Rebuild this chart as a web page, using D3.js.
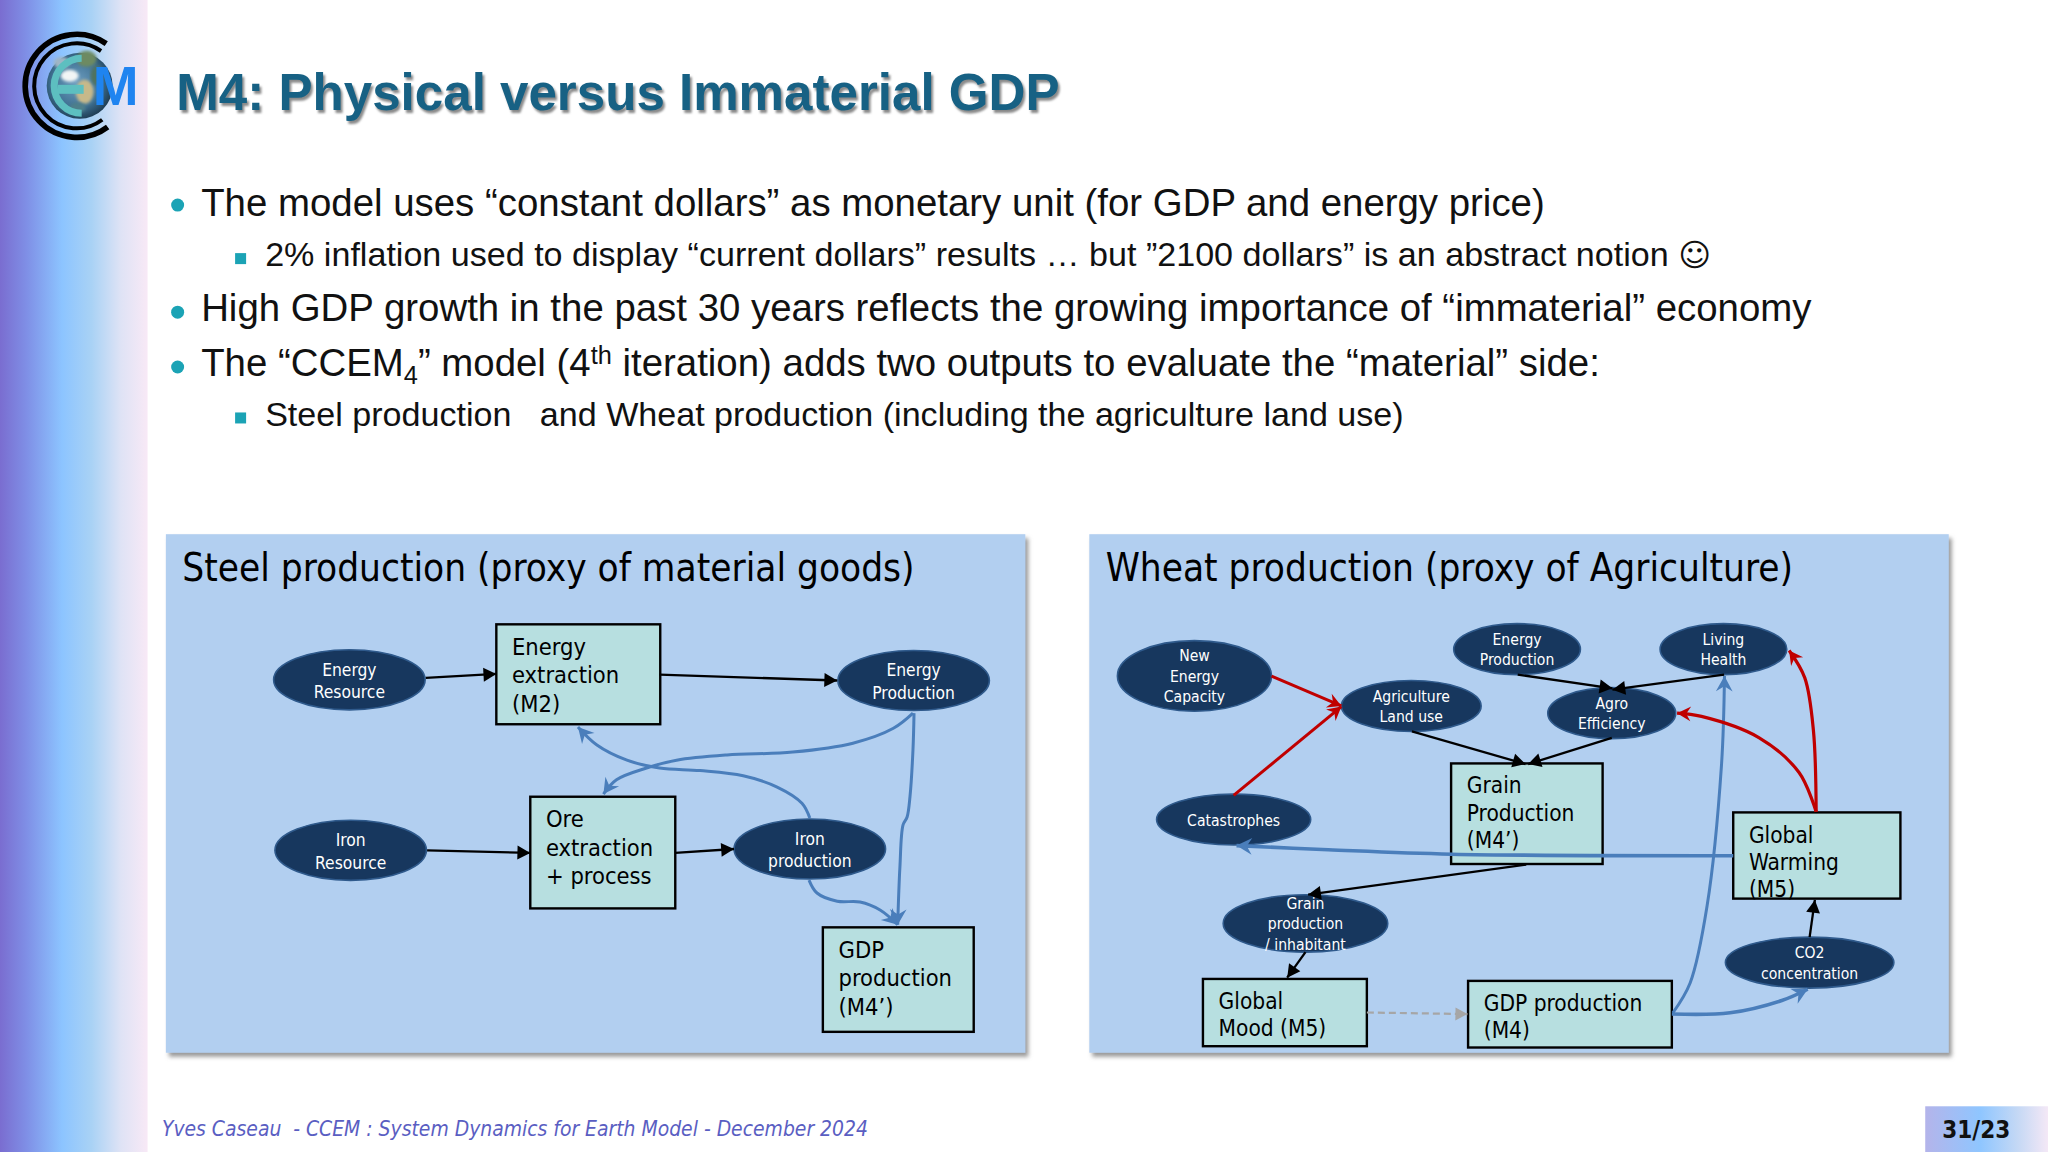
<!DOCTYPE html>
<html>
<head>
<meta charset="utf-8">
<script src="https://d3js.org/d3.v7.min.js"></script>
<style>
html, body { margin: 0; padding: 0; background: #fff; }
svg { display: block; }
text { white-space: pre; }
</style>
</head>
<body>
<svg id="slide" width="2048" height="1152"></svg>
<script>
var titleText = "M4: Physical versus Immaterial GDP";
var footerText = "Yves Caseau  - CCEM : System Dynamics for Earth Model - December 2024";
var pageText = "31/23";

var bulletY = [157, 239, 281];
var squareY = [198, 320];
var bulletLines = [
  [{t: "The model uses “constant dollars” as monetary unit (for GDP and energy price)"}],
  [{t: "2% inflation used to display “current dollars” results … but ”2100 dollars” is an abstract notion "}, {t: "☺", s: "big"}],
  [{t: "High GDP growth in the past 30 years reflects the growing importance of “immaterial” economy"}],
  [{t: "The “CCEM"}, {t: "4", s: "sub"}, {t: "” model (4"}, {t: "th", s: "sup"}, {t: " iteration) adds two outputs to evaluate the “material” side:"}],
  [{t: "Steel production   and Wheat production (including the agriculture land use)"}]
];
var bulletLineX = [154, 203, 154, 154, 203];
var bulletLineY = [165.5, 204, 245.5, 287.5, 326.5];
var bulletLineSize = [38.4, 34.1, 38.4, 38.4, 34.1];

var panelTitles = ["Steel production (proxy of material goods)", "Wheat production (proxy of Agriculture)"];
var panelX = [127, 834];
var panelW = [658, 658];

// ellipses
var ovalLabels = [
  ["Energy", "Resource"], ["Energy", "Production"], ["Iron", "Resource"], ["Iron", "production"],
  ["New", "Energy", "Capacity"], ["Agriculture", "Land use"], ["Energy", "Production"], ["Living", "Health"],
  ["Agro", "Efficiency"], ["Catastrophes"], ["Grain", "production", "/ inhabitant"], ["CO2", "concentration"]
];
var ovalCx = [267.5, 699.5, 268.5, 620, 914.5, 1080.5, 1161.5, 1319.5, 1234, 944.5, 999.5, 1385.5];
var ovalCy = [520.5, 521, 651, 650, 517.5, 540.5, 497, 497, 546, 627.5, 707, 737];
var ovalRx = [58, 58, 58, 58, 59, 53.5, 48.5, 48.5, 49, 59, 63, 64.5];
var ovalRy = [23, 23, 23, 23, 27, 19.5, 19.5, 19.5, 19.5, 19.5, 22, 19.5];
var ovalFont = [17.3, 17.3, 17.3, 17.3, 15.6, 15.6, 15.6, 15.6, 15.6, 15.6, 15.6, 15.6];
var ovalStep = [17.4, 17.4, 17.4, 17.4, 15.7, 15.7, 15.7, 15.7, 15.7, 15.7, 15.7, 15.7];

// boxes
var boxLabels = [
  ["Energy", "extraction", "(M2)"], ["Ore", "extraction", "+ process"], ["GDP", "production", "(M4’)"],
  ["Grain", "Production", "(M4’)"], ["Global", "Warming", "(M5)"], ["Global", "Mood (M5)"], ["GDP production", "(M4)"]
];
var boxX0 = [380, 406, 630, 1111, 1327, 921, 1124];
var boxX1 = [505.5, 517, 745.5, 1227, 1455, 1046.5, 1280];
var boxY0 = [478, 610, 710, 584.5, 622, 749.5, 751];
var boxY1 = [554.5, 695.5, 790, 661.5, 688, 801, 802];
var boxFont = [23.5, 23.5, 23.5, 22.5, 22.5, 22.5, 22.5];
var boxStep = [21.7, 21.7, 21.7, 20.8, 20.8, 20.8, 20.8];
var boxPad = [23.5, 23.5, 23.5, 23, 23.5, 23, 23];

// straight arrows as [x0, y0, x1, y1]
var blackArrows = [
  [326, 519, 380, 516], [505, 516.5, 641, 521], [327, 651, 406, 653], [517, 653, 562, 650],
  [1162, 516.5, 1234.5, 527], [1320, 516.5, 1234.5, 528], [1081, 560, 1168, 585], [1234, 565, 1170, 585],
  [1168.5, 662, 1001.5, 685], [999.5, 729, 985.5, 748.5], [1385.5, 717.5, 1389.5, 689]
];
var greyArrow = [1046.5, 775.2, 1123.5, 776.4];
var redStraight = [[973.5, 517.6, 1027, 540.5], [944.5, 609, 1027, 541]];

// curved arrows, points along each line
var blueCurves = [
  [[699, 546], [684, 557.6], [653, 569], [607, 575.8], [556.6, 578], [518, 582], [495, 588], [472, 597], [462, 608]],
  [[620, 626.3], [614, 615], [595, 602.6], [569, 594], [536, 590], [505, 588], [480, 582], [457, 570.4], [442.5, 556.6]],
  [[699.8, 546], [699, 574], [696.7, 610], [694.5, 625.5], [691.4, 631.6], [689, 663.8], [687.3, 708]],
  [[619.4, 673.8], [625.5, 683.7], [641, 690], [658.5, 690.6], [673.8, 696.7], [687.3, 708]],
  [[1280.8, 775.4], [1294, 752.6], [1307, 693.5], [1318, 586], [1320.3, 517.6]]
];
var blueThick = [
  [[1327, 655.2], [1111.5, 654], [1016.9, 650.6], [946.7, 647.4]],
  [[1280, 776.3], [1324.6, 775.4], [1364.2, 766], [1384, 757.4]]
];
var redCurves = [
  [[1390.5, 621.5], [1377.4, 591.5], [1346.6, 564.7], [1302.7, 548.5], [1284, 546]],
  [[1390.5, 621.5], [1388.4, 559.3], [1381.8, 519], [1369.8, 498]]
];

// logo pieces, relative to the centre of the rings
var logoRings = [[51.5, 2.8], [42.5, 2]];
var landX = [-7, 8, 10, 20, 1, -15];
var landY = [-10, 6, -27, -10, 22, -23];
var landRx = [9, 9, 10, 6, 8, 8];
var landRy = [6, 12, 8, 10, 5, 6];
var landCol = ["#f2f5f5", "#c7b98a", "#6d8a62", "#4f7260", "#4d7f8a", "#9fb5c5"];

var svg = d3.select("#slide");
var x = d3.scaleLinear().domain([0, 1568]).range([0, 2048]);
var y = d3.scaleLinear().domain([0, 882]).range([0, 1152]);
var defs = svg.append("defs");

function sideGradient(id, stops) {
  var g = defs.append("linearGradient").attr("id", id);
  stops.forEach(function(s) {
    g.append("stop").attr("offset", s[0]).attr("stop-color", s[1]);
  });
}
sideGradient("side", [[0, "#7a6dd0"], [0.18, "#7f8fe6"], [0.42, "#8cc4ff"], [0.62, "#a9d2f5"], [0.82, "#dfe3f5"], [1, "#f8e9f6"]]);
sideGradient("pageBox", [[0, "#b4b4ea"], [0.45, "#8fc6ff"], [0.75, "#c4d8f5"], [1, "#f4e8f6"]]);

var globe = defs.append("radialGradient").attr("id", "globe").attr("cx", 0.45).attr("cy", 0.45).attr("r", 0.58);
globe.append("stop").attr("offset", 0).attr("stop-color", "#6f9fc2");
globe.append("stop").attr("offset", 0.65).attr("stop-color", "#3f7192");
globe.append("stop").attr("offset", 1).attr("stop-color", "#1d3a50");

var shadow = defs.append("filter").attr("id", "panelShadow")
  .attr("x", "-2%").attr("y", "-2%").attr("width", "105%").attr("height", "106%");
shadow.append("feDropShadow").attr("dx", 3).attr("dy", 4).attr("stdDeviation", 2)
  .attr("flood-color", "#777").attr("flood-opacity", 0.75);
var soft = defs.append("filter").attr("id", "soft");
soft.append("feGaussianBlur").attr("stdDeviation", 1.6);
var titleBlur = defs.append("filter").attr("id", "titleBlur").attr("x", "-2%").attr("y", "-20%").attr("width", "104%").attr("height", "140%");
titleBlur.append("feGaussianBlur").attr("stdDeviation", 1.3);

function arrowMarker(id, col, size, shape) {
  defs.append("marker").attr("id", id)
    .attr("markerUnits", "userSpaceOnUse")
    .attr("viewBox", "-1 -8 14 16")
    .attr("markerWidth", size).attr("markerHeight", size * 16 / 14)
    .attr("refX", 12).attr("refY", 0)
    .attr("orient", "auto")
    .append("path").attr("d", shape).attr("fill", col);
}
var solidHead = "M0,-6.5L12,0L0,6.5Z";
var notchHead = "M0,-6.5L12,0L0,6.5L4,0Z";
arrowMarker("headBlack", "#000", 15, solidHead);
arrowMarker("headBlue", "#4a7ebb", 18, notchHead);
arrowMarker("headRed", "#c00000", 16, notchHead);
arrowMarker("headGrey", "#a6a6a6", 14, solidHead);

// side band and page number
svg.append("rect").attr("x", 0).attr("y", 0).attr("width", x(113)).attr("height", y(882)).attr("fill", "url(#side)");
svg.append("rect").attr("x", x(1474)).attr("y", y(847)).attr("width", x(94)).attr("height", y(35)).attr("fill", "url(#pageBox)");

// logo
var logo = svg.append("g").attr("transform", "translate(" + x(58.7) + "," + y(65.7) + ")");
logo.append("circle").attr("cx", 3).attr("r", 33).attr("fill", "url(#globe)");
logo.selectAll("ellipse.land").data(landX).join("ellipse").attr("class", "land")
  .attr("cx", function(d) { return d; })
  .attr("cy", function(d, i) { return landY[i]; })
  .attr("rx", function(d, i) { return landRx[i]; })
  .attr("ry", function(d, i) { return landRy[i]; })
  .attr("fill", function(d, i) { return landCol[i]; })
  .attr("filter", "url(#soft)");
// rings open on the right
var ringArc = d3.arc().startAngle(143 * Math.PI / 180).endAngle(395 * Math.PI / 180);
logo.selectAll("path.ring").data(logoRings).join("path").attr("class", "ring")
  .attr("d", function(d) { return ringArc.innerRadius(d[0]).outerRadius(d[0])(); })
  .attr("fill", "none").attr("stroke", "#000")
  .attr("stroke-width", function(d) { return d[1] * 2; })
  .attr("stroke-linecap", "round");
// teal E over the globe
logo.append("path")
  .attr("d", d3.arc().innerRadius(24).outerRadius(31).startAngle(Math.PI).endAngle(2 * Math.PI)())
  .attr("transform", "translate(5,0)").attr("fill", "#5dbfc0");
logo.append("rect").attr("x", -19).attr("y", -1).attr("width", 26).attr("height", 9).attr("fill", "#5dbfc0");
logo.append("text").attr("x", 16).attr("y", 19.5)
  .style("font", "bold 55px 'Liberation Sans'").attr("fill", "#1f84f0").text("M");

// title with its soft shadow
var titleX = x(135), titleY = y(84);
svg.append("text").attr("x", titleX + 2).attr("y", titleY + 3)
  .style("font", "bold 51.1px 'Liberation Sans'").attr("fill", "#8a8a8a")
  .attr("filter", "url(#titleBlur)").text(titleText);
svg.append("text").attr("x", titleX).attr("y", titleY)
  .style("font", "bold 51.1px 'Liberation Sans'").attr("fill", "#176184").text(titleText);

// bullets
svg.selectAll("circle.bullet").data(bulletY).join("circle").attr("class", "bullet")
  .attr("cx", x(136)).attr("cy", function(d) { return y(d); }).attr("r", 6.5).attr("fill", "#1ba3b5");
svg.selectAll("rect.square").data(squareY).join("rect").attr("class", "square")
  .attr("x", x(180)).attr("y", function(d) { return y(d) - 5.5; })
  .attr("width", 11).attr("height", 11).attr("fill", "#1ba3b5");

bulletLines.forEach(function(parts, i) {
  var size = bulletLineSize[i];
  var line = svg.append("text").attr("x", x(bulletLineX[i])).attr("y", y(bulletLineY[i]))
    .style("font-family", "'Liberation Sans'").style("font-size", size + "px").attr("fill", "#111");
  var shift = 0;
  parts.forEach(function(p) {
    var dy = -shift;
    var ts = line.append("tspan").text(p.t);
    if (p.s === "sub") { dy += 8; shift = 8; ts.style("font-size", size * 0.66 + "px"); }
    else if (p.s === "sup") { dy += -12; shift = -12; ts.style("font-size", size * 0.66 + "px"); }
    else if (p.s === "big") { shift = 0; ts.style("font-size", size * 0.92 + "px").style("font-family", "'DejaVu Sans'"); }
    else { shift = 0; }
    if (dy !== 0) ts.attr("dy", dy);
  });
});

// panels
panelX.forEach(function(px, i) {
  svg.append("rect").attr("x", x(px)).attr("y", y(409)).attr("width", x(panelW[i])).attr("height", y(397))
    .attr("fill", "#b2cff0").attr("filter", "url(#panelShadow)");
  svg.append("text").attr("x", x(px + 12.5)).attr("y", y(444.5))
    .style("font-family", "'DejaVu Sans Condensed'").style("font-size", "38.4px").attr("fill", "#000")
    .text(panelTitles[i]);
});

var curve = d3.line()
  .x(function(d) { return x(d[0]); })
  .y(function(d) { return y(d[1]); })
  .curve(d3.curveCatmullRom.alpha(0.5));

function straight(list, col, w, head, dash) {
  svg.append("g").selectAll("line").data(list).join("line")
    .attr("x1", function(d) { return x(d[0]); })
    .attr("y1", function(d) { return y(d[1]); })
    .attr("x2", function(d) { return x(d[2]); })
    .attr("y2", function(d) { return y(d[3]); })
    .attr("stroke", col).attr("stroke-width", w)
    .attr("stroke-dasharray", dash || null)
    .attr("marker-end", "url(#" + head + ")");
}
function curved(list, col, w, head) {
  svg.append("g").selectAll("path").data(list).join("path")
    .attr("d", curve).attr("fill", "none")
    .attr("stroke", col).attr("stroke-width", w)
    .attr("marker-end", "url(#" + head + ")");
}

// boxes first, the warming line runs over the grain box
svg.append("g").selectAll("rect").data(boxLabels).join("rect")
  .attr("x", function(d, i) { return x(boxX0[i]); })
  .attr("y", function(d, i) { return y(boxY0[i]); })
  .attr("width", function(d, i) { return x(boxX1[i] - boxX0[i]); })
  .attr("height", function(d, i) { return y(boxY1[i] - boxY0[i]); })
  .attr("fill", "#b7dfe0").attr("stroke", "#000").attr("stroke-width", 2.4);

svg.append("g").selectAll("ellipse").data(ovalLabels).join("ellipse")
  .attr("cx", function(d, i) { return x(ovalCx[i]); })
  .attr("cy", function(d, i) { return y(ovalCy[i]); })
  .attr("rx", function(d, i) { return x(ovalRx[i]); })
  .attr("ry", function(d, i) { return y(ovalRy[i]); })
  .attr("fill", "#17375e").attr("stroke", "#2f5a8c").attr("stroke-width", 1.6);

boxLabels.forEach(function(lines, i) {
  lines.forEach(function(t, j) {
    svg.append("text").attr("x", x(boxX0[i] + 12)).attr("y", y(boxY0[i] + boxPad[i] + j * boxStep[i]))
      .style("font-family", "'DejaVu Sans Condensed'").style("font-size", boxFont[i] + "px").attr("fill", "#000")
      .text(t);
  });
});
ovalLabels.forEach(function(lines, i) {
  lines.forEach(function(t, j) {
    svg.append("text").attr("x", x(ovalCx[i]))
      .attr("y", y(ovalCy[i] + 0.8 + (j - (lines.length - 1) / 2) * ovalStep[i]))
      .attr("text-anchor", "middle").attr("dominant-baseline", "central")
      .style("font-family", "'DejaVu Sans Condensed'").style("font-size", ovalFont[i] + "px").attr("fill", "#fff")
      .text(t);
  });
});

straight(blackArrows, "#000", 2.3, "headBlack");
straight([greyArrow], "#a6a6a6", 2.2, "headGrey", "7 4");
straight(redStraight, "#c00000", 3, "headRed");
curved(blueCurves, "#4a7ebb", 3, "headBlue");
curved(blueThick, "#4a7ebb", 3.6, "headBlue");
curved(redCurves, "#c00000", 3.2, "headRed");

// footer
svg.append("text").attr("x", x(124)).attr("y", y(870))
  .style("font-family", "'DejaVu Sans Condensed'").style("font-style", "italic").style("font-size", "20.9px")
  .attr("fill", "#5a5ec2").text(footerText);
svg.append("text").attr("x", x(1487)).attr("y", y(871))
  .style("font-family", "'DejaVu Sans Condensed'").style("font-weight", "bold").style("font-size", "24px")
  .attr("fill", "#111").text(pageText);
</script>
</body>
</html>
